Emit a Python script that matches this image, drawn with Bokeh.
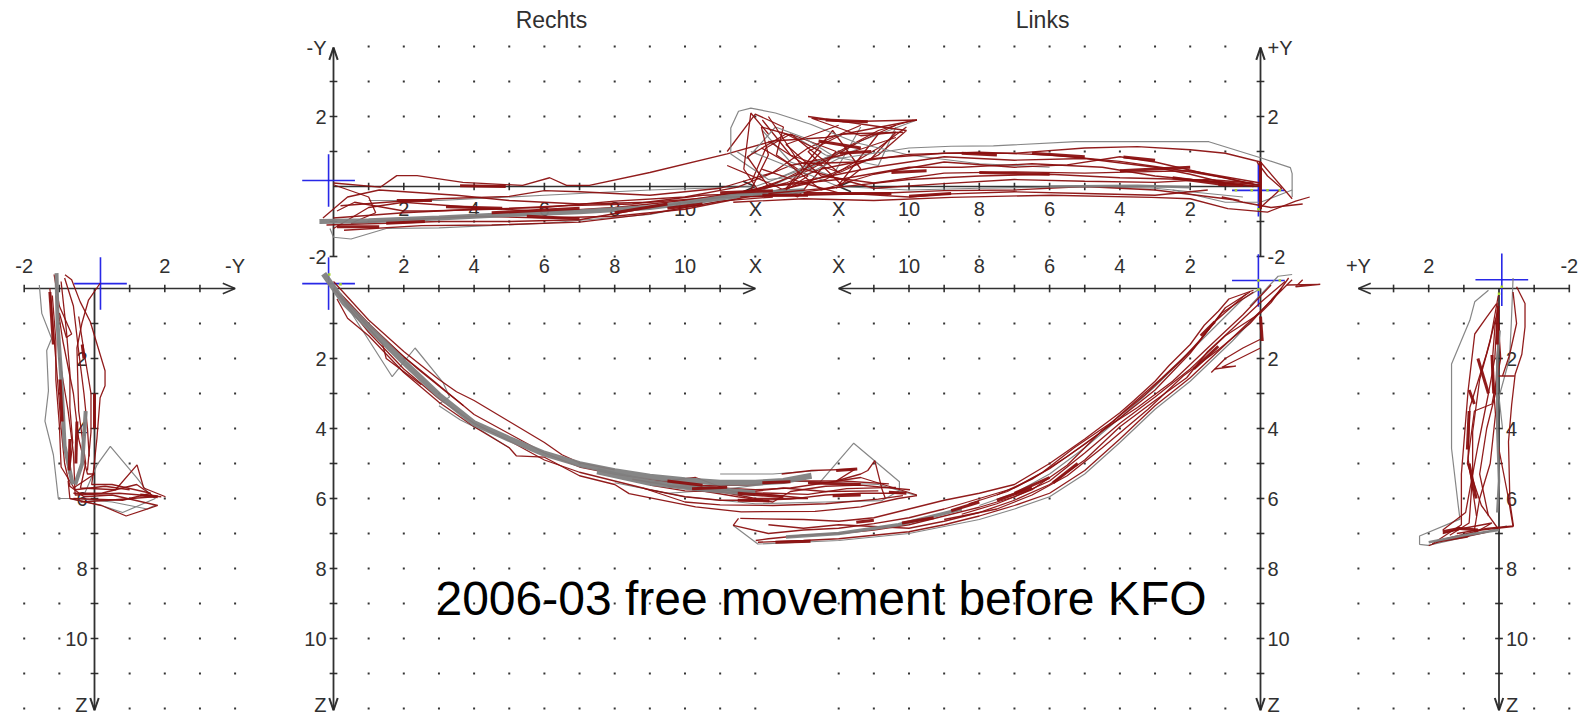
from bokeh.plotting import figure
from bokeh.models import Range1d
from bokeh.core.properties import value
from bokeh.embed import file_html
from bokeh.resources import INLINE

TITLE = "2006-03 free movement before KFO"
HEAD_R = "Rechts"
HEAD_L = "Links"
X_TICKS = [1, 2, 3, 4, 5, 6, 7, 8, 9, 10, 11]
Z_TICKS = [1, 2, 3, 4, 5, 6, 7, 8, 9, 10, 11]
Y_TICKS = [-2, -1, 1, 2, 3]
X_LABELS = [2, 4, 6, 8, 10]
Z_LABELS = [2, 4, 6, 8, 10]
GRID_X = [1, 2, 3, 4, 5, 6, 7, 8, 9, 10, 11, 12]
GRID_Z = [1, 2, 3, 4, 5, 6, 7, 8, 9, 10, 11, 12]
GRID_UP = [-2, -1, 1, 2, 3, 4]
SIDE_COLS = [-2, -1, 1, 2, 3, 4]

# Lower panel, right side: (x, z)
LR_RED = [
    [(0,-0.2),(0.5,0.35),(1,0.9),(2,1.8),(3,2.6),(3.5,2.95),(4,3.2),(5,3.8),(6,4.4),(6.5,4.75),(7,4.98),(8,5.18)],
    [(0.2,0.15),(1,1.0),(2,1.95),(2.8,2.6),(3.4,3.1),(4,3.6),(5,4.15),(6,4.7),(7,5.1),(8,5.3),(9,5.45),(10,5.6),(11,5.7),(12,5.75),(13,5.7),(14,5.55),(15,5.4),(16.6,5.9)],
    [(0.1,0.3),(0.4,0.85),(1,1.35),(2,2.4),(3,3.25),(4,3.95),(5,4.55),(5.2,4.78),(6,4.82),(7,5.35),(8,5.6),(8.41,5.86),(10.3,6.24),(11.6,6.38),(13.7,6.37),(15,6.24),(16.06,6.0),(16.6,5.92)],
    [(0,0),(1,1.25),(2,2.3),(3,3.15),(4,3.85),(5,4.35),(6,4.9),(7,5.25),(8,5.5),(9,5.75),(10,5.95),(11,6.05),(12,6.05),(13,6.02),(14,5.9),(15,5.85),(16.2,5.85)],
    [(8.5,5.45),(10,5.7),(11.5,5.95),(12.5,6.1),(13,5.8),(14,5.65),(15,5.62),(16.4,5.75)],
    [(9,5.55),(10.3,5.4),(11.5,5.85),(12.8,5.7),(14,5.8),(15.5,5.78)],
    [(12.75,5.3),(13.6,5.2),(14.84,5.16),(14.3,5.5),(15,5.3),(15.2,5.2),(15.4,4.92),(15.6,5.72),(15.7,6.0)],
    [(10,5.6),(12,6.0),(13.5,6.0),(11,5.75),(9.5,5.65),(11.8,5.62),(13,5.5),(14.5,5.5),(15.8,5.58)],
    [(0.3,0.3),(1.4,1.6),(1.5,2.0),(2.5,2.75)],
    [(0.1,0.1),(0.8,0.85),(1.6,1.6),(2.4,2.3),(3.2,2.95),(3.7,3.35)],
    [(8.8,5.7),(10,6.1),(11,6.18),(12.5,6.2),(14,6.15),(15.5,6.02),(16.2,5.92)],
    [(9,5.62),(10,5.78),(11.2,5.82),(12.5,5.85),(13.5,5.88),(14.6,5.72),(16,5.68)],
]
LR_RED_THICK = [[(9.5,5.5),(10.5,5.62)],[(11.5,5.85),(12.8,5.95)],[(15.8,5.82),(16.3,5.85)],[(13.5,5.55),(15,5.6)],[(14.3,5.2),(14.9,5.16)],[(10.2,5.72),(11.2,5.68)],[(12.2,5.55),(13,5.52)],[(14.2,5.92),(15,5.9)],[(11.5,6.05),(12.4,6.07)]]
LR_GRAY = [
    [(0,-0.1),(1.67,2.52),(2.32,1.7),(3.12,2.69),(3.3,3.1),(3.0,3.3)],
    [(13.8,5.58),(14.8,4.42),(16.1,5.52),(16.1,5.78),(15.6,6.06),(14,6.1),(12,6.15),(10,5.95),(9,5.75)],
    [(3.0,3.35),(3.6,3.75),(4.2,4.05),(5,4.55)],
    [(16.6,5.92),(15.5,5.6),(13,5.5),(11,5.75),(9.5,5.85),(8,5.55)],
    [(11,5.3),(12.5,5.3),(13.8,5.2)],
]
LR_BAND = [[(-0.28,-0.42),(0.3,0.4),(1,1.1),(2,2.1),(3,3.05),(4,3.85),(5,4.3),(6,4.72),(7,5.02),(8,5.22),(9,5.38),(10,5.48),(11,5.55),(12,5.55),(12.8,5.5),(13.6,5.35)],
           [(7.5,5.22),(9,5.55),(10.5,5.72),(12,5.85)]]

# Lower panel, left side: (x, z)
LL_RED = [
    [(0.2,0.05),(0.9,0.3),(1.2,0.65),(1.6,1.05),(2,1.6),(2.6,2.2),(3,2.65),(3.6,3.2),(4,3.55),(5,4.3),(6,5.0),(7,5.6),(8,5.85),(9,6.05),(10,6.3),(11,6.55),(12,6.65),(13,6.6),(14.8,6.57)],
    [(0.3,0.1),(1,0.55),(1.5,1.2),(2,1.85),(3,2.9),(4,3.7),(5,4.45),(6,5.15),(7,5.7),(8,6.0),(9,6.3),(10,6.55),(11,6.72),(12,6.85),(13,6.9),(14,7.0),(15,6.77),(14.85,6.57)],
    [(-0.8,-0.3),(-0.3,0.4),(0,0.7),(1,1.35),(2,2.3),(3,3.1),(4,3.85),(5,4.7),(6,5.5),(7,5.95),(8,6.25),(9,6.5),(10,6.75),(11,6.9),(12,7.0),(13,7.05),(14,7.15),(14.36,7.2)],
    [(-0.9,-0.25),(-0.5,0.15),(0,0.65),(1,1.6),(2,2.55),(3,3.35),(4,4.3),(5,5.2),(6,5.85),(7,6.2),(8,6.5),(9,6.75),(10,6.95),(11,7.05),(12,7.15),(13,7.2),(14.3,7.25)],
    [(-0.7,-0.2),(0,0.4),(0.8,1.15),(1.5,1.8),(2.1,2.55),(3,3.2),(4,3.95),(5,4.9),(6,5.6),(7,6.05),(8,6.4),(9,6.65),(10,6.85),(11,6.8),(12,6.75),(13,6.85),(14,6.75)],
    [(-0.75,-0.1),(-1.7,-0.12),(-1,-0.05),(-1.2,-0.25)],
    [(0,1.7),(1.1,2.25),(0.7,2.22),(1.3,2.3)],
    [(0,1.45),(0.5,1.7),(1,2.0),(1.4,2.4)],
    [(0.2,0.1),(1.1,0.7),(1.9,1.7),(2.8,2.55),(3.7,3.35),(4.6,4.15),(5.5,4.8),(6.5,5.45),(7.5,5.9)],
    [(0.4,0.15),(1.3,0.95),(1.7,1.45),(2.3,2.1),(3.3,3.05),(4.2,3.8),(5.3,4.55),(6.2,5.25),(7.2,5.8),(8.3,6.15)],
    [(-0.3,-0.1),(0.5,0.75),(1.4,1.6),(2.5,2.65),(3.5,3.4),(4.5,4.05),(5.5,5.05),(6.5,5.75),(7.5,6.15),(8.5,6.45)],
    [(-0.6,0.0),(0.3,1.0),(1.2,1.75),(2.2,2.5),(3.2,3.45),(4.5,4.55),(5.5,5.35),(6.5,5.9),(7.5,6.3),(9,6.6)],
]
LL_RED_THICK = [[(11,6.62),(11.5,6.68)],[(0,0.8),(-0.05,1.5)],[(6,5.4),(7,5.85)],[(8,6.1),(8.8,6.35)],[(12.8,7.22),(13.8,7.25)],[(6.5,5.7),(7.5,6.05)],[(5.2,5.0),(5.9,5.55)],[(1.2,1.65),(1.9,2.3)],[(1.3,0.95),(1.7,1.35)],[(9.3,6.55),(10.2,6.7)]]
LL_GRAY = [
    [(0,0),(0.5,0.3),(1.3,1.1),(2,1.8),(3,2.8),(4,3.7),(5,4.55),(6,5.3),(7,5.85),(8,6.2)],
    [(0,0.65),(0.8,1.5),(2,2.65),(3,3.45),(4,4.4),(5,5.3),(6,5.95),(7,6.3),(8,6.6),(10,7.0),(12,7.2),(14.3,7.3),(15,6.77)],
    [(-0.9,-0.4),(-0.5,-0.35),(0.3,0.5)],
]
LL_BAND = [[(8.5,6.3),(10.3,6.75),(12,7.0),(13.5,7.1)]]

# Upper panel, right side: (x, y)
TR_RED = [
    [(0,0.1),(1.33,-0.02),(1.8,0.31),(2.38,0.31),(3.68,0.12),(5.38,0.03),(6.15,0.25),(6.63,0.03),(7.28,0.03),(9,0.4),(11.2,0.93),(12.5,1.3),(14,1.4),(16.6,1.9)],
    [(-0.3,-0.9),(0.4,-0.3),(1.3,-0.1),(3.5,-0.25),(5,-0.4),(7,-0.5),(9,-0.45),(11,-0.3),(12.5,0.05),(14,0.8),(15.5,1.6),(16.5,1.9)],
    [(0,-1.2),(1,-0.6),(2,-0.45),(4,-0.6),(6,-0.72),(8,-0.6),(10,-0.4),(12,-0.1),(13.5,0.45),(15,1.3),(16,1.75)],
    [(0,0.05),(1,-0.3),(1.2,-0.75),(0.5,-1.05),(2,-0.95),(4,-0.85),(6,-0.9),(8,-0.85),(10,-0.65),(12,-0.25),(14,0.2),(15.5,1.1),(16.3,1.7)],
    [(-0.2,-1.1),(1.5,-1.05),(3,-1.0),(5,-1.0),(7,-0.95),(9,-0.6),(11,-0.32),(13,-0.22),(14.5,0.0),(13.5,1.0),(14.5,1.5),(16.2,1.55)],
    [(0.1,-0.7),(0.6,-0.45),(2,-0.7),(2.7,-0.7),(4.5,-0.65),(6.5,-0.55),(8.5,-0.5),(10.5,-0.25),(12.5,-0.18),(14,0.3),(15.3,0.8),(16,1.55),(15,1.45),(13.6,1.95),(14.5,1.85),(16.6,1.9)],
    [(0.2,-0.55),(1.5,-0.45),(3,-0.35),(5,-0.28),(6,-0.12),(7,-0.15),(9,-0.25),(11,-0.05),(12.5,0.4),(13.5,1.1),(15,1.75)],
    [(0,-0.9),(2,-0.75),(4,-0.65),(6,-0.6),(8,-0.42),(10,-0.3),(11.5,-0.02),(13,0.6),(14.5,0.9),(16,1.4)],
    [(11.2,1.0),(12,2.07),(12.8,1.7),(12.6,0.9),(13.5,0.3),(12.8,-0.15),(14.2,1.6),(15,0.5),(14.3,-0.05),(15.5,1.5)],
    [(12.2,1.9),(13,0.9),(14.4,0.4),(15.5,0.9),(16.3,1.6),(13.5,2.0)],
    [(11.2,0.6),(12.5,0.05),(13.2,-0.3),(14.3,1.0),(13,1.5),(12.3,1.1),(11.9,0.15)],
    [(0.3,-1.25),(2.5,-1.12),(4.5,-1.1),(7,-1.02),(9,-0.78),(11,-0.42),(12.5,-0.3)],
]
TR_RED_THICK = [[(0.1,-1.15),(1.3,-1.15)],[(4.5,-0.75),(7,-0.62)],[(8,-0.75),(9.5,-0.5)],[(11,-0.18),(12.5,-0.12)],[(3.6,0.02),(4.9,0.0)],[(14,1.9),(15.2,1.85)],[(13.8,1.3),(15,1.1)],
                [(1.8,-0.4),(2.8,-0.4)],[(3.2,-0.58),(4.8,-0.62)],[(5.5,-0.85),(7,-0.92)],[(1.5,-1.05),(2.6,-1.0)],[(9.5,-0.62),(10.5,-0.5)],[(12.2,-0.25),(13.5,-0.25)],[(14.4,0.95),(15.3,1.0)]]
TR_GRAY = [
    [(-0.1,-1.2),(0,-1.45),(0.5,-1.5),(1.5,-1.2),(3,-1.18),(6,-1.05),(9,-0.8),(11.9,-0.25),(13.5,0.5),(15,1.3),(16.6,1.9)],
    [(1,-0.4),(3,-0.4),(6,-0.25),(9,-0.1),(12,0.0),(15,1.1)],
    [(13,1.5),(14,0.9),(15.5,0.6),(16,1.7)],
    [(12.2,1.6),(13,0.7),(14.2,0.3),(15,1.7)],
]
TR_BAND = [[(-0.4,-1.0),(1,-0.98),(3,-0.9),(5,-0.8),(7,-0.72),(9,-0.6),(10,-0.48),(11.9,-0.2),(13.4,-0.12)]]

# Upper panel, left side: (x, y)
TL_RED = [
    [(-0.9,-0.35),(0,0.7),(1,0.95),(2,1.05),(3.5,1.14),(5,1.1),(7,0.95),(9,0.95),(11,0.8),(12.5,0.5),(13.5,0.1),(14.3,-0.1),(14.7,0.5),(14.5,2.1),(14,1.5)],
    [(0,0.0),(1,0.1),(2,0.35),(3,0.55),(5,0.8),(7,0.75),(9,0.85),(11,0.55),(13,0.15),(14.5,-0.1),(14,0.9),(14.2,1.7),(13.3,1.45),(12,0.4)],
    [(0.2,0.0),(1.5,0.15),(3,0.3),(4.5,0.55),(6.5,0.65),(8.5,0.55),(10,0.55),(12,0.2),(14,0.0),(14.6,0.85),(13.5,1.5),(12.5,1.0),(13.5,-0.1)],
    [(0,0.05),(2,0.2),(4,0.25),(6,0.35),(8,0.3),(10,0.2),(12,-0.02),(14,-0.2)],
    [(-1.4,-0.3),(-1,-0.42),(-0.2,-0.73),(0.93,-0.63),(2,-0.35),(3.1,-0.31),(5.95,-0.25),(8.8,-0.31),(11,-0.4),(13,-0.35),(15,-0.45)],
    [(-1.2,-0.5),(-0.3,-0.6),(0.5,-0.45),(1.1,-0.3),(0.6,-0.4),(3,-0.1),(5,0.0),(7,-0.1),(9,-0.12),(11,-0.2),(13,-0.25),(14.8,-0.3)],
    [(0,-0.6),(-0.6,-0.05),(-0.2,0.3),(0.1,0.7)],
    [(0,0.02),(1,0.25),(2.5,0.5),(4,0.72),(6,0.9),(8,0.98),(10,0.92),(11.5,0.7),(13,0.65),(14,1.3)],
    [(0.3,0.08),(1.5,0.35),(3,0.7),(4,0.85),(5.5,0.62),(7,0.55),(9,0.7),(11,0.35),(12.5,-0.1),(13.5,0.7),(14.2,1.1)],
    [(0,0.1),(2,0.45),(3.5,0.42),(5,0.38),(7,0.42),(9,0.38),(11,0.1),(12.5,0.3),(13.5,1.2),(12,1.75)],
    [(0.2,0.1),(1.5,0.2),(3,0.12),(5,0.15),(7,0.2),(9,0.08),(11,-0.05),(13,0.5),(14,2.0)],
    [(1.5,-0.1),(3,-0.25),(5,-0.2),(7,-0.15),(9,-0.22),(10,-0.3),(12,-0.18),(13,0.1),(14.2,0.5)],
]
TL_RED_THICK = [[(2,0.55),(4,0.45)],[(5,0.85),(6.5,0.95)],[(1,0.05),(2.5,0.25)],[(6,0.35),(8,0.4)],[(0,-0.65),(0,0.7)],
                [(3,0.75),(3.9,0.84)],[(7.5,0.9),(8.5,0.95)],[(9.5,0.45),(10.5,0.4)],[(0.5,0.03),(1.2,0.06)],[(10.5,-0.2),(13,-0.2)],[(8.8,-0.2),(10,-0.28)]]
TL_GRAY = [
    [(-0.9,-0.3),(-0.9,0.37),(-0.85,0.54),(0,0.82),(1.47,1.28),(5.24,1.28),(7.6,1.16),(8.8,1.15),(10,1.1),(12,0.8),(13,0.3),(14,0.2),(15.07,0.93),(15.07,1.67),(14.85,2.15),(14.5,2.24),(13.8,2.1),(12.8,1.78),(11.5,1.25),(10,0.9),(8,0.65),(6,0.55)],
    [(0.5,-0.3),(3,-0.05),(5,0.0),(8,-0.05),(10,-0.1),(12,0.0),(13.5,0.6),(14.5,1.0)],
    [(-0.9,-0.1),(0,-0.45),(1,-0.45),(2.5,-0.1)],
    [(14.9,1.0),(14.6,0.8),(13.8,1.7),(13,1.4),(12.2,0.9),(13.7,0.25)],
]
TL_BAND = [[(2,-0.02),(3.5,0.02),(6,0.0)]]

# Left side panel: (y, z)
SL_RED = [
    [(0.16,-0.15),(-0.17,0.33),(-0.36,1.0),(-0.5,1.7),(-0.45,3.5),(-0.25,5),(-0.4,5.7),(0.6,5.75),(1.21,5.04),(1.4,5.7),(2.02,5.95)],
    [(-0.84,-0.39),(-0.65,-0.25),(-0.41,0.375),(-0.12,0.95),(0.3,2.35),(0.3,2.78),(0.16,3.12),(0.07,4.27),(-0.03,5.23),(-0.08,5.6),(0.5,5.6),(1.6,5.85),(0.8,6.05),(-0.6,6.0)],
    [(-1.27,0.0),(-1.2,0.8),(-1.12,1.8),(-1.02,3.0),(-0.95,4.0),(-0.85,5.0),(-0.7,5.65),(-0.3,5.95),(0.5,5.9),(1.8,6.2),(0.9,6.5),(0.2,6.2),(-0.7,6.0),(-0.75,5.5)],
    [(-1.15,-0.4),(-1.0,0.5),(-0.65,1.3),(-0.8,1.4),(-1.0,0.7)],
    [(-1.1,0.2),(-0.9,1.5),(-0.6,3),(-0.45,4.3),(-0.2,5.3),(0.0,5.3),(-0.6,5.7)],
    [(-0.85,-0.3),(-0.6,0.5),(-0.45,1.8),(-0.3,3),(-0.2,4),(-0.15,4.8)],
    [(-1.0,2.0),(-0.75,3.5),(-0.6,4.7),(-0.55,5.9),(0.7,5.85),(1.9,5.95)],
    [(-1.2,0.2),(-1.1,1.5),(-1.1,2.6),(-1.0,3.9),(-0.95,5.1),(-0.55,5.75),(0.3,5.65),(1.0,5.75)],
    [(-0.95,-0.2),(-0.8,1.2),(-0.7,2.4),(-0.7,3.4),(-0.62,4.4),(-0.72,5.3)],
    [(-0.45,0.8),(-0.3,1.8),(-0.1,3.0),(-0.1,4.1),(-0.2,5.2)],
    [(-0.6,5.85),(0.2,5.85),(1.2,5.6),(1.7,5.95),(0.4,6.05),(-0.4,6.1)],
]
SL_RED_THICK = [[(-1.27,0.1),(-1.17,1.6)],[(-0.5,3.8),(-0.53,5.0)],[(0.0,3.0),(0.0,4.0)],[(1.3,5.9),(1.8,5.95)],[(-0.98,2.6),(-0.92,3.8)],[(-0.7,4.3),(-0.72,5.2)],[(-0.35,1.6),(-0.3,2.0)]]
SL_GRAY = [
    [(-1.57,-0.1),(-1.5,0.71),(-1.22,1.43),(-1.36,1.77),(-1.31,2.92),(-1.41,3.79),(-1.17,4.75),(-1.03,6.0),(-0.5,6.0),(0.5,6.1),(1.5,6.3),(1.73,6.19)],
    [(-0.3,5.9),(0.07,5.04),(0.45,4.51),(1.21,5.42),(1.5,5.8),(1.73,6.0),(0.8,6.4),(0.2,6.2),(-0.7,6.0)],
]
SL_BAND = [[(-1.08,-0.44),(-1.05,1.0),(-0.95,2.5),(-0.85,4.5),(-0.62,5.6)],[(-0.25,3.5),(-0.35,5.0),(-0.55,5.6)]]

# Right side panel: (y, z)
SR_RED = [
    [(-0.5,-0.05),(-0.74,0.43),(-0.74,1.1),(-0.65,1.88),(-0.46,2.45),(-0.36,3.32),(-0.27,4.38),(-0.31,6.1),(-0.41,6.78),(0.3,6.85),(1.2,7.0)],
    [(0.07,0.43),(0.35,0.82),(0.69,1.3),(0.88,2.93),(1.07,5.3),(1.07,6.75),(1.9,7.3)],
    [(0,0.5),(0.35,1.85),(0.83,3.4),(0.88,4.85),(0.64,6.5)],
    [(0.03,0.4),(0.12,2),(0.3,3),(0.6,4.5),(0.95,6.4),(1.6,6.9)],
    [(0,1.0),(0.1,3.0),(0.35,4.0),(0.55,5.3),(0.3,6.5)],
    [(0.05,0.5),(-0.05,2.0),(0.2,3.3),(0.7,3.5),(0.9,5),(0.5,6.2),(0.0,6.9)],
    [(0.03,2.5),(0.0,2.5),(-0.45,2.5)],
    [(0.02,4.5),(-0.25,5.9),(-0.4,6.8),(0.5,6.9),(1.5,7.15),(2,7.35)],
    [(0.02,0.2),(0.25,1.5),(0.55,2.6),(0.75,4.1),(0.75,5.3),(0.85,6.7),(1.4,7.05)],
    [(0.1,0.9),(0.2,2.2),(0.1,3.6),(0.25,5),(0.55,6.0),(0.7,6.9)],
    [(-0.4,0.1),(-0.5,1.0),(-0.3,1.9),(-0.1,2.5)],
    [(1.6,7.0),(1.0,6.85),(0.2,6.7),(0.9,7.1),(1.8,7.25),(0.3,6.95)],
]
SR_RED_THICK = [[(0.03,0.6),(0.05,1.6)],[(0.2,1.9),(0.15,3.0)],[(0.3,3),(0.6,2)],[(0.85,3.5),(0.9,4.6)],[(0.85,5),(0.65,6)],[(1.2,6.85),(0.6,6.9)],[(0.7,3.3),(0.85,2.9)],[(1.6,6.95),(1.1,6.85)]]
SR_GRAY = [
    [(0.3,0.05),(0.69,0.38),(0.83,0.91),(1.35,2.16),(1.35,4.57),(1.16,6.2),(1.11,6.59),(2.26,7.07),(2.26,7.31),(2.02,7.34),(0.5,7.0),(-0.22,6.78)],
    [(-0.4,-0.3),(-0.35,1),(-0.3,2),(0,3.1),(-0.1,4.0)],
]
SR_BAND = [[(-0.02,1.2),(0.05,2),(0.05,4),(0,5.5),(0.05,6.4)],[(2.0,7.25),(1,7.05),(0,6.9)]]

CROSS_TR = (-0.14, 0.17)
CROSS_LR = (-0.14, -0.14)
CROSS_TL = (0.06, -0.11)
CROSS_LL = (0.06, -0.23)
CROSS_SL = (0.17, -0.14)
CROSS_SR = (-0.08, -0.25)
MARK_TL = [(0.7, -0.11), (0.25, -0.11), (-0.2, -0.11), (-0.55, -0.11), (0.06, -0.65)]
MARK_LL = [(0.06, 0.03), (-0.55, -0.23), (0.06, -0.23)]
MARK_LR = [(-0.12, -0.4), (0.2, -0.12)]
MARK_SR = [(0.0, 0.15), (-0.08, -0.05)]

W, H = 1585, 715
UX, UZ = 35.15, 35.0
RED, GRAY, INK, BLUE = "#8b1010", "#808080", "#262626", "#1c1ce6"
FONT = value("Liberation Sans")

p = figure(width=W, height=H, output_backend="svg", toolbar_location=None,
           x_range=Range1d(0, W), y_range=Range1d(H, 0), min_border=0,
           margin=(0, 0, 0, 0))
p.xaxis.visible = False
p.yaxis.visible = False
p.grid.visible = False
p.outline_line_color = None
p.background_fill_color = "white"

def xr(name, px0, sign):
    p.extra_x_ranges[name] = Range1d((0 - px0) / (UX * sign), (W - px0) / (UX * sign))
def yr(name, px0, sign):
    p.extra_y_ranges[name] = Range1d((H - px0) / (UZ * sign), (0 - px0) / (UZ * sign))

xr("xR", 333, 1); xr("xL", 1260, -1); xr("sL", 94, 1); xr("sR", 1498.5, -1)
yr("up", 186, -1); yr("zl", 288, 1)

def polys(xn, yn, traces, color, width):
    p.multi_line([[a for a, _ in t] for t in traces], [[b for _, b in t] for t in traces],
                 x_range_name=xn, y_range_name=yn, line_color=color, line_width=width, line_alpha=0.95)

def dots(xn, yn, cols, rows):
    xs = [c for c in cols for _ in rows]
    ys = [r for _ in cols for r in rows]
    p.scatter(xs, ys, x_range_name=xn, y_range_name=yn, marker="square", size=2,
              color="#333333", line_width=0)

def label(xn, yn, x, y, txt, align="center", dx=0, dy=0, size="20px", color="#303030"):
    p.text([x], [y], text=[txt], x_range_name=xn, y_range_name=yn, text_font=FONT,
           text_font_size=size, text_color=color, text_align=align,
           text_baseline="middle", x_offset=dx, y_offset=dy)

def hline(xn, yn, x0, x1, y, ticks, arrow):
    polys(xn, yn, [[(x0, y), (x1, y)]], INK, 1.6)
    polys(xn, yn, [[(t, y - 0.11), (t, y + 0.11)] for t in ticks], INK, 1.6)
    polys(xn, yn, [[(x1 - arrow * 0.35, y - 0.15), (x1, y), (x1 - arrow * 0.35, y + 0.15)]], INK, 1.6)

def vline(xn, yn, x, y0, y1, ticks, arrow):
    polys(xn, yn, [[(x, y0), (x, y1)]], INK, 1.8)
    polys(xn, yn, [[(x - 0.11, t), (x + 0.11, t)] for t in ticks], INK, 1.6)
    polys(xn, yn, [[(x - 0.12, y1 - arrow * 0.35), (x, y1), (x + 0.12, y1 - arrow * 0.35)]], INK, 2.0)

def cross(xn, yn, c):
    polys(xn, yn, [[(c[0] - 0.75, c[1]), (c[0] + 0.75, c[1])], [(c[0], c[1] - 0.75), (c[0], c[1] + 0.75)]], BLUE, 1.6)

def marks(xn, yn, pts):
    p.scatter([a for a, _ in pts], [b for _, b in pts], x_range_name=xn, y_range_name=yn,
              marker="square", size=2.5, color="#a6d62a", line_width=0)

# dotted grid
dots("xR", "up", GRID_X, GRID_UP); dots("xR", "zl", GRID_X, GRID_Z)
dots("xL", "up", GRID_X, GRID_UP); dots("xL", "zl", GRID_X, GRID_Z)
dots("sL", "zl", SIDE_COLS, GRID_Z); dots("sR", "zl", SIDE_COLS, GRID_Z)

# axes
for xn in ("xR", "xL"):
    hline(xn, "up", 0, 12, 0, X_TICKS, 1)
    hline(xn, "zl", 0, 12, 0, X_TICKS, 1)
    vline(xn, "up", 0, -2, 3.97, Y_TICKS, 1)
    vline(xn, "zl", 0, 0, 12.05, Z_TICKS, 1)
for xn in ("sL", "sR"):
    hline(xn, "zl", -2, 4, 0, [-2, -1, 1, 2, 3], 1)
    vline(xn, "zl", 0, 0, 12.05, Z_TICKS, 1)

# tick labels
for xn in ("xR", "xL"):
    for t in X_LABELS:
        label(xn, "up", t, 0, str(t), dy=22)
        label(xn, "zl", t, 0, str(t), dy=-23)
    label(xn, "up", 12, 0, "X", dy=22)
    label(xn, "zl", 12, 0, "X", dy=-23)
for xn, al, dx in (("xR", "right", -7), ("sL", "right", -7), ("xL", "left", 7), ("sR", "left", 7)):
    for t in Z_LABELS:
        label(xn, "zl", 0, t, str(t), al, dx)
    label(xn, "zl", 0, 11.9, "Z", al, dx)
label("xR", "up", 0, 2, "2", "right", -7)
label("xR", "up", 0, -2, "-2", "right", -7)
label("xR", "up", 0, 3.97, "-Y", "right", -7)
label("xL", "up", 0, 2, "2", "left", 7)
label("xL", "up", 0, -2, "-2", "left", 7)
label("xL", "up", 0, 3.97, "+Y", "left", 7)
label("sL", "zl", -2, 0, "-2", dy=-23)
label("sL", "zl", 2, 0, "2", dy=-23)
label("sL", "zl", 4, 0, "-Y", dy=-23)
label("sR", "zl", -2, 0, "-2", dy=-23)
label("sR", "zl", 2, 0, "2", dy=-23)
label("sR", "zl", 4, 0, "+Y", dy=-23)
label("xR", "up", 6.2, 0, HEAD_R, dy=-167, size="23px")
label("xL", "up", 6.2, 0, HEAD_L, dy=-167, size="23px")

# crosses
cross("xR", "up", CROSS_TR); cross("xR", "zl", CROSS_LR)
cross("xL", "up", CROSS_TL); cross("xL", "zl", CROSS_LL)
cross("sL", "zl", CROSS_SL); cross("sR", "zl", CROSS_SR)

# traces
for xn, yn, red, thick, gray, band, bw in (
    ("xR", "zl", LR_RED, LR_RED_THICK, LR_GRAY, LR_BAND, 6),
    ("xL", "zl", LL_RED, LL_RED_THICK, LL_GRAY, LL_BAND, 3.5),
    ("xR", "up", TR_RED, TR_RED_THICK, TR_GRAY, TR_BAND, 5),
    ("xL", "up", TL_RED, TL_RED_THICK, TL_GRAY, TL_BAND, 2.5),
    ("sL", "zl", SL_RED, SL_RED_THICK, SL_GRAY, SL_BAND, 4),
    ("sR", "zl", SR_RED, SR_RED_THICK, SR_GRAY, SR_BAND, 2.5),
):
    polys(xn, yn, gray, GRAY, 1.2)
    polys(xn, yn, red, RED, 1.3)
    polys(xn, yn, band, GRAY, bw)
    polys(xn, yn, thick, RED, 3)

marks("xL", "up", MARK_TL); marks("xL", "zl", MARK_LL)
marks("xR", "zl", MARK_LR); marks("sR", "zl", MARK_SR)

# caption
p.text([(436 + 1205) / 2], [598], text=[TITLE], text_font=FONT, text_font_size="48px",
       text_color="black", text_align="center", text_baseline="middle")

open("out.html", "w").write(file_html(p, INLINE))
